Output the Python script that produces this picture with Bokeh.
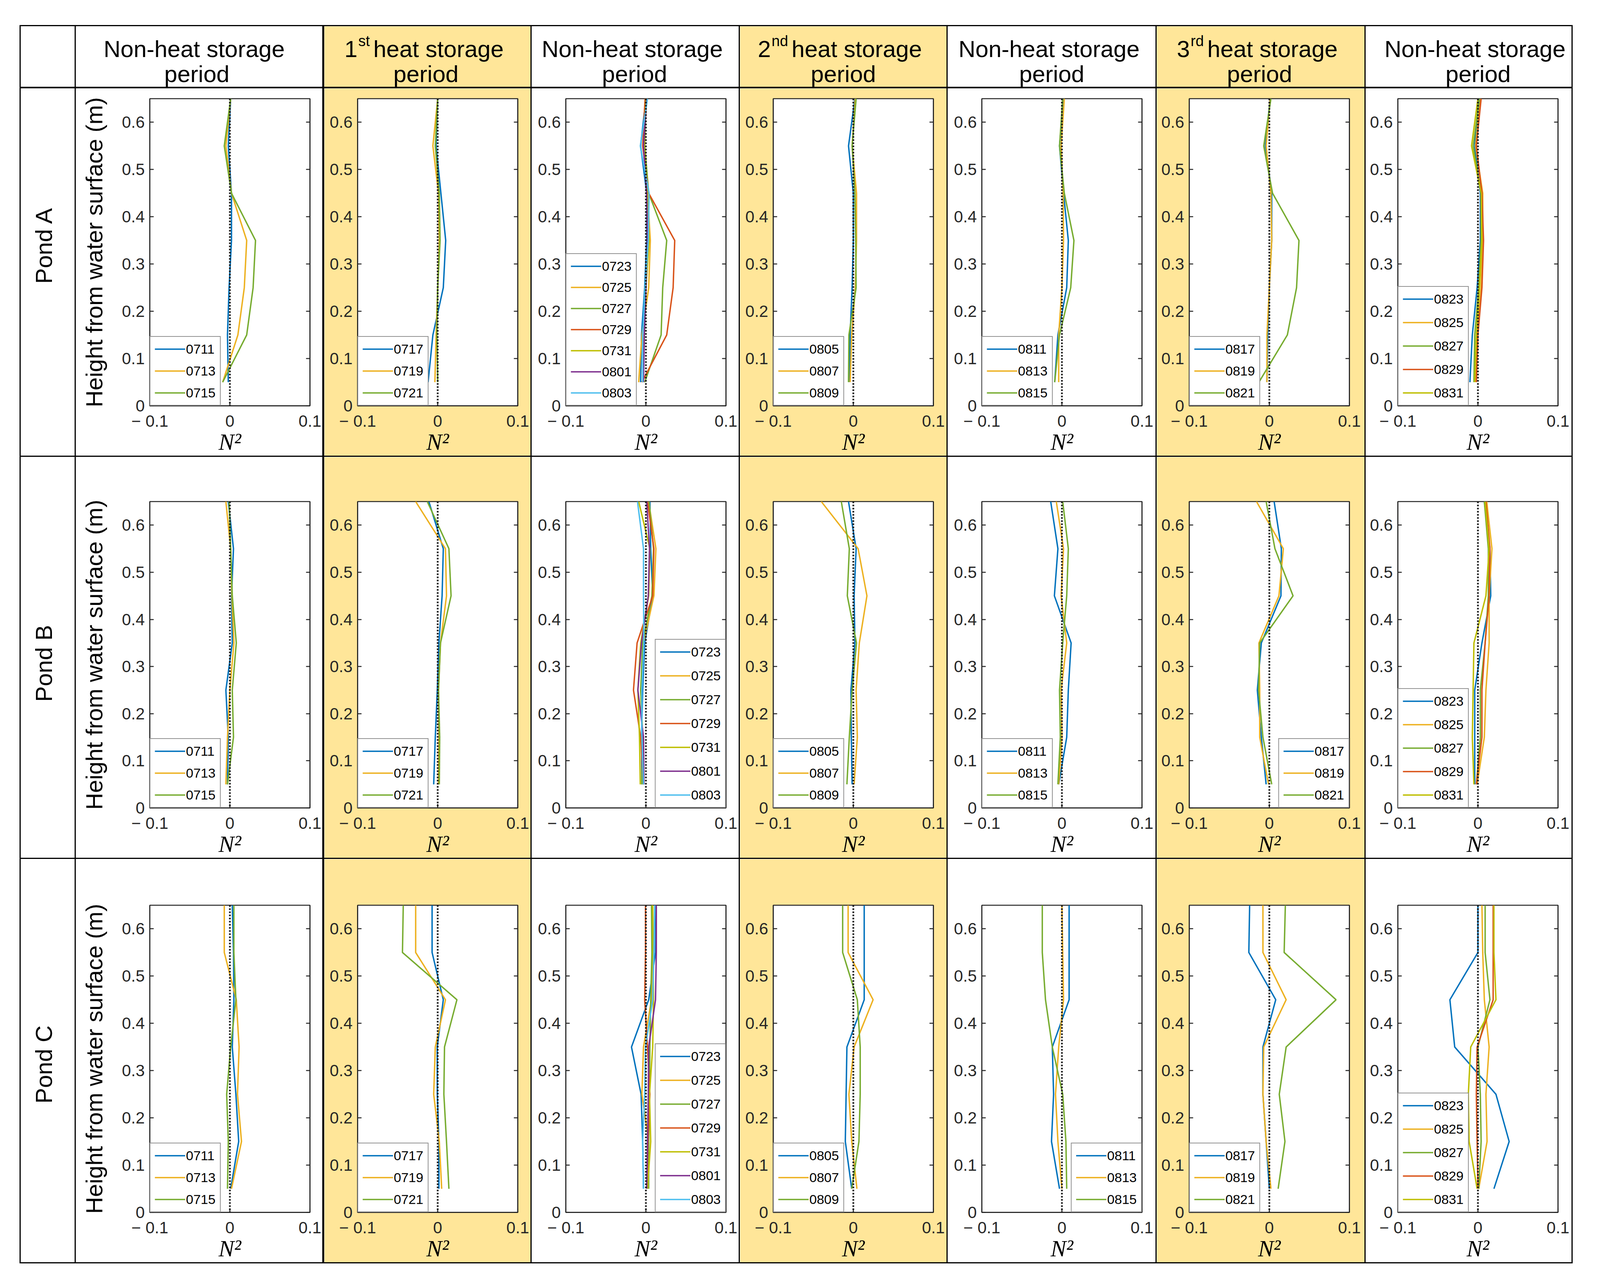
import math
from bokeh.plotting import figure
from bokeh.models import Range1d, FixedTicker, LinearAxis, Span, Legend, LegendItem, Spacer
from bokeh.layouts import row, column
from bokeh.embed import file_html
from bokeh.resources import INLINE
from bokeh.core.properties import value

# ---------------- data ----------------
DEPTH = [0.05, 0.15, 0.25, 0.35, 0.45, 0.55, 0.65]

DATES_1 = ["0711", "0713", "0715"]
DATES_2 = ["0717", "0719", "0721"]
DATES_3 = ["0723", "0725", "0727", "0729", "0731", "0801", "0803"]
DATES_4 = ["0805", "0807", "0809"]
DATES_5 = ["0811", "0813", "0815"]
DATES_6 = ["0817", "0819", "0821"]
DATES_7 = ["0823", "0825", "0827", "0829", "0831"]

# N^2 per date, values ordered like DEPTH
A1 = [[-0.002, -0.003, -0.001, 0.002, 0.002, -0.002, 0.001],
      [-0.009, 0.010, 0.018, 0.021, 0.002, -0.005, 0.001],
      [-0.009, 0.021, 0.029, 0.032, 0.002, -0.007, 0.001]]
A2 = [[-0.012, -0.006, 0.007, 0.010, 0.004, -0.002, 0.000],
      [-0.0035, -0.002, 0.000, 0.002, 0.001, -0.006, 0.000],
      [0.000, -0.001, 0.000, 0.003, 0.002, -0.003, 0.000]]
A3 = [[-0.0066, -0.0055, -0.0015, 0.001, 0.001, -0.0066, 0.000],
      [-0.009, -0.005, 0.0035, 0.0055, 0.002, -0.003, 0.001],
      [-0.0015, 0.019, 0.021, 0.026, 0.0035, -0.0015, 0.000],
      [-0.005, 0.026, 0.034, 0.036, 0.0035, -0.004, -0.001],
      [-0.004, -0.002, 0.000, 0.004, 0.002, -0.002, 0.000],
      [-0.003, -0.002, 0.000, 0.002, 0.001, -0.003, 0.001],
      [-0.004, -0.004, -0.001, 0.003, 0.004, -0.007, 0.002]]
A4 = [[-0.005, -0.004, -0.0015, 0.000, 0.000, -0.006, 0.002],
      [-0.004, -0.002, 0.0025, 0.004, 0.004, -0.0015, 0.0025],
      [-0.006, -0.0055, 0.0035, 0.003, 0.002, -0.0015, 0.0035]]
A5 = [[-0.009, -0.005, 0.006, 0.008, 0.002, -0.003, 0.002],
      [-0.004, -0.004, 0.000, 0.002, 0.0015, -0.001, 0.003],
      [-0.009, -0.003, 0.011, 0.015, 0.003, -0.003, 0.001]]
A6 = [[-0.003, -0.002, 0.000, 0.003, 0.003, -0.005, 0.001],
      [-0.003, -0.003, 0.000, 0.003, 0.002, -0.004, 0.001],
      [-0.013, 0.0225, 0.034, 0.037, 0.004, -0.007, 0.002]]
A7 = [[-0.010, -0.007, -0.001, 0.003, 0.003, -0.004, 0.001],
      [-0.003, -0.001, 0.004, 0.006, 0.006, -0.003, 0.003],
      [-0.005, -0.004, 0.001, 0.004, 0.004, -0.006, 0.002],
      [-0.002, 0.000, 0.005, 0.007, 0.005, -0.002, 0.004],
      [-0.004, -0.002, 0.002, 0.005, 0.004, -0.008, 0.000]]

B1 = [[-0.003, -0.002, -0.005, 0.003, 0.002, 0.0045, -0.002],
      [-0.005, -0.003, 0.000, 0.005, 0.0025, 0.001, -0.005],
      [-0.003, 0.0045, 0.003, 0.008, 0.003, 0.001, -0.001]]
B2 = [[-0.005, -0.003, -0.0005, 0.0015, 0.0055, 0.007, -0.011],
      [0.001, 0.0015, 0.001, 0.0035, 0.011, 0.0097, -0.0275],
      [0.002, 0.0025, 0.001, 0.0035, 0.0167, 0.014, -0.013]]
B3 = [[-0.005, -0.0055, -0.004, -0.0015, 0.0085, 0.006, 0.005],
      [-0.003, -0.004, -0.0065, -0.003, 0.010, 0.0125, 0.0035],
      [-0.005, -0.004, -0.0065, -0.004, 0.0075, 0.0095, 0.004],
      [-0.003, -0.0065, -0.0155, -0.011, 0.0085, 0.010, 0.002],
      [-0.007, -0.008, -0.010, -0.0065, 0.0035, 0.005, -0.009],
      [-0.0025, -0.003, -0.010, -0.0055, 0.003, 0.0045, 0.001],
      [-0.003, -0.005, -0.005, -0.0025, -0.003, -0.003, -0.0105]]
B4 = [[-0.0015, -0.0025, -0.003, 0.002, 0.001, 0.0035, -0.006],
      [0.001, 0.005, 0.0035, 0.0075, 0.017, 0.006, -0.040],
      [-0.008, -0.005, -0.0015, 0.004, -0.0075, -0.005, -0.015]]
B5 = [[-0.004, 0.006, 0.008, 0.0115, -0.0094, -0.005, -0.014],
      [-0.004, 0.000, -0.001, 0.006, -0.001, 0.002, -0.007],
      [-0.005, -0.002, -0.003, 0.001, 0.006, 0.008, 0.001]]
B6 = [[-0.004, -0.010, -0.015, -0.010, 0.0145, 0.015, 0.006],
      [-0.001, -0.012, -0.012, -0.013, 0.012, 0.0175, -0.016],
      [0.003, -0.008, -0.0135, -0.012, 0.0296, 0.007, -0.004]]
B7 = [[-0.004, -0.004, -0.004, 0.005, 0.016, 0.015, 0.008],
      [-0.001, 0.008, 0.010, 0.014, 0.014, 0.0175, 0.011],
      [-0.002, 0.003, 0.003, 0.009, 0.013, 0.013, 0.008],
      [-0.002, 0.005, 0.005, 0.009, 0.014, 0.015, 0.010],
      [-0.005, -0.007, -0.006, -0.005, 0.010, 0.014, 0.009]]

C1 = [[0.001, 0.011, 0.0075, 0.003, 0.005, 0.0045, 0.003],
      [0.002, 0.0145, 0.0095, 0.0115, 0.008, -0.007, -0.007],
      [-0.003, -0.002, -0.004, 0.001, 0.0075, 0.005, 0.005]]
C2 = [[0.0015, 0.0015, -0.0005, -0.0006, 0.007, -0.007, -0.007],
      [0.005, 0.002, -0.005, -0.003, 0.0097, -0.0275, -0.0275],
      [0.014, 0.011, 0.0077, 0.0085, 0.024, -0.044, -0.043]]
C3 = [[-0.003, -0.004, -0.006, -0.018, 0.0035, 0.012, 0.0125],
      [0.001, 0.0035, -0.005, -0.003, 0.007, 0.0085, 0.008],
      [0.0035, 0.0035, 0.0045, 0.005, 0.006, 0.0075, 0.007],
      [0.001, 0.0025, 0.005, 0.002, -0.0015, -0.0005, -0.0005],
      [0.002, 0.006, 0.0045, 0.0085, 0.0095, 0.009, 0.0085],
      [0.001, 0.002, 0.003, 0.0035, 0.012, 0.013, 0.013],
      [-0.003, -0.004, -0.0015, -0.0005, 0.0085, 0.010, 0.011]]
C4 = [[-0.002, -0.010, -0.009, -0.008, 0.0136, 0.0136, 0.0136],
      [0.0045, -0.002, -0.0055, 0.001, 0.0247, -0.0065, -0.0065],
      [-0.002, 0.007, 0.0086, 0.0086, 0.005, -0.0133, -0.0133]]
C5 = [[-0.003, -0.013, -0.0104, -0.012, 0.009, 0.009, 0.009],
      [0.000, -0.005, -0.008, -0.004, 0.002, 0.001, 0.000],
      [0.006, 0.005, 0.001, -0.012, -0.0205, -0.0245, -0.0245]]
C6 = [[0.000, -0.004, -0.008, -0.008, 0.008, -0.0256, -0.0246],
      [0.002, -0.004, -0.008, -0.007, 0.021, -0.008, -0.008],
      [0.011, 0.0195, 0.0124, 0.021, 0.0833, 0.0185, 0.020]]
C7 = [[0.020, 0.039, 0.0225, -0.029, -0.035, 0.000, 0.000],
      [0.001, 0.0114, 0.010, 0.014, 0.008, 0.006, 0.005],
      [0.001, 0.004, 0.003, 0.000, 0.015, 0.009, 0.009],
      [0.000, -0.001, -0.002, -0.001, 0.019, 0.019, 0.019],
      [-0.001, -0.011, -0.012, -0.009, 0.0225, 0.020, 0.020]]

PONDS = ["Pond A", "Pond B", "Pond C"]
HEAD_ORD = ["", "1", "", "2", "", "3", ""]
HEAD_SUP = ["", "st", "", "nd", "", "rd", ""]
HEAD_L1 = ["Non-heat storage", "heat storage", "Non-heat storage", "heat storage",
           "Non-heat storage", "heat storage", "Non-heat storage"]
HEAD_L2 = ["period"] * 7

X_TICKS = [-0.1, 0, 0.1]
X_TICK_LABELS = ["\u2212 0.1", "0", "0.1"]
Y_TICKS = [0, 0.1, 0.2, 0.3, 0.4, 0.5, 0.6]
Y_TICK_LABELS = ["0", "0.1", "0.2", "0.3", "0.4", "0.5", "0.6"]

COLORS = ["#0072BD", "#EDB120", "#77AC30", "#D95319", "#BEBE00", "#7E2F8E", "#4DBEEE"]

LEG_LOC = [["bottom_left"] * 7,
           ["bottom_left", "bottom_left", "bottom_right", "bottom_left", "bottom_left", "bottom_right", "bottom_left"],
           ["bottom_left", "bottom_left", "bottom_right", "bottom_left", "bottom_right", "bottom_left", "bottom_left"]]

# ---------------- layout / style ----------------
SX = 4096.0 / 4384.0          # the browser viewport that is photographed is 4096 px wide
FONT = "Liberation Sans"
AX = "#262626"
YELLOW = "#FFE699"
LINEC = "#000000"


def sx(v):
    return int(round(v * SX))


COL_X = [sx(v) for v in [62, 213, 892, 1462, 2032, 2602, 3175, 3747, 4314]]
V_LW = [3, 3, 5, 3, 3, 3, 3, 3, 3]
ROW_Y = [72, 230, 1174, 2203, 3238]
H_LW = [3, 4, 3, 3, 3]
FRAME_LEFT = [sx(v) for v in [418, 988, 1558, 2127, 2698, 3267, 3838]]
FRAME_W = sx(439)
FRAME_TOP = [260, 1291, 2324]
FRAME_H = [788, 789, 789]
POND_X = sx(128)
POND_Y = [683, 1719, 2741]
L1_SHIFT = [sx(v) for v in [-14, -10, -9, -6, -8, -10, 17]]
L2_SHIFT = [sx(v) for v in [-6, -4, -2, 0, 0, -3, 26]]

CW = [COL_X[i + 1] - COL_X[i] - V_LW[i] for i in range(8)]
CH = [ROW_Y[j + 1] - ROW_Y[j] - H_LW[j] for j in range(4)]
TOTAL_W = COL_X[-1] + V_LW[-1] - COL_X[0]

PANELS = [[A1, A2, A3, A4, A5, A6, A7], [B1, B2, B3, B4, B5, B6, B7], [C1, C2, C3, C4, C5, C6, C7]]
DATES = [DATES_1, DATES_2, DATES_3, DATES_4, DATES_5, DATES_6, DATES_7]


def fill_of(col):
    return YELLOW if col in (1, 3, 5) else "white"


def rule(w, h):
    return Spacer(width=w, height=h, styles={"background-color": LINEC})


def bare_fig(w, h, color, xr=(0, 1), yr=(0, 1)):
    f = figure(width=w, height=h, toolbar_location=None, output_backend="svg",
               x_axis_type=None, y_axis_type=None, min_border=0,
               x_range=Range1d(*xr), y_range=Range1d(*yr),
               outline_line_color=None, background_fill_color=color, border_fill_color=color)
    return f


def header_cell(col, w, h):
    f = bare_fig(w, h, fill_of(col), (0, w), (0, h))
    cx = w / 2.0
    S, SS = 60, 38
    kw = dict(text_font=value(FONT), text_baseline="alphabetic", text_color="black")
    if HEAD_ORD[col]:
        sup_w = {"st": 0.778, "nd": 1.112, "rd": 0.889}[HEAD_SUP[col]] * SS
        total = 0.556 * S + 2 + sup_w + 9 + 5.559 * S
        x0 = cx - sx(10) - total / 2.0
        f.text(x=[x0], y=[h - 58], text=[HEAD_ORD[col]], text_font_size=f"{S}px", text_align="left", **kw)
        f.text(x=[x0 + 0.556 * S + 2], y=[h - 37], text=[HEAD_SUP[col]], text_font_size=f"{SS}px",
               text_align="left", **kw)
        f.text(x=[x0 + 0.556 * S + 2 + sup_w + 9], y=[h - 58], text=[HEAD_L1[col]],
               text_font_size=f"{S}px", text_align="left", **kw)
    else:
        f.text(x=[cx + L1_SHIFT[col]], y=[h - 58], text=[HEAD_L1[col]], text_font_size=f"{S}px",
               text_align="center", **kw)
    f.text(x=[cx + L2_SHIFT[col]], y=[h - 122], text=[HEAD_L2[col]], text_font_size=f"{S}px",
           text_align="center", **kw)
    return f


def pond_cell(j, w, h):
    f = bare_fig(w, h, "white", (0, w), (0, h))
    top = ROW_Y[j + 1] + H_LW[j + 1]
    f.text(x=[POND_X - (COL_X[0] + V_LW[0])], y=[h - (POND_Y[j] - top)], text=[PONDS[j]],
           text_font=value(FONT), text_font_size="60px", text_align="center",
           text_baseline="middle", angle=math.pi / 2, text_color="black")
    return f


def panel(j, col, w, h):
    left0 = COL_X[col + 1] + V_LW[col + 1]
    top0 = ROW_Y[j + 1] + H_LW[j + 1]
    mbl = FRAME_LEFT[col] - left0
    mbr = w - mbl - FRAME_W
    mbt = FRAME_TOP[j] - top0
    mbb = h - mbt - FRAME_H[j]
    p = figure(width=w, height=h, toolbar_location=None, output_backend="svg",
               x_range=Range1d(-0.1, 0.1), y_range=Range1d(0, 0.65),
               min_border_left=mbl, min_border_right=mbr, min_border_top=mbt, min_border_bottom=mbb,
               background_fill_color="white", border_fill_color=fill_of(col),
               outline_line_color=AX, outline_line_width=2.5)
    p.grid.visible = False
    series = PANELS[j][col]
    dates = DATES[col]
    items = []
    for k, (vals, d) in enumerate(zip(series, dates)):
        r = p.line(x=vals, y=DEPTH, line_color=COLORS[k], line_width=3.6)
        items.append(LegendItem(label=d, renderers=[r]))
    p.add_layout(Span(location=0, dimension="height", line_color="#1a1a1a",
                      line_dash="4 4", line_width=4.5))

    for ax in (p.xaxis[0], p.yaxis[0]):
        ax.axis_line_color = AX
        ax.axis_line_width = 2.5
        ax.major_tick_line_color = AX
        ax.major_tick_line_width = 2.5
        ax.major_tick_in = 10
        ax.major_tick_out = 0
        ax.minor_tick_line_color = None
        ax.major_label_text_font = FONT
        ax.major_label_text_font_size = "42px"
        ax.major_label_text_color = AX
    xa = p.xaxis[0]
    xa.ticker = FixedTicker(ticks=X_TICKS)
    xa.major_label_overrides = dict(zip(X_TICKS, X_TICK_LABELS))
    xa.major_label_standoff = 15
    xa.axis_label = "N\u00b2"
    xa.axis_label_text_font = "Liberation Serif"
    xa.axis_label_text_font_style = "italic"
    xa.axis_label_text_font_size = "60px"
    xa.axis_label_text_color = "black"
    xa.axis_label_standoff = -6
    ya = p.yaxis[0]
    ya.ticker = FixedTicker(ticks=Y_TICKS)
    ya.major_label_overrides = dict(zip(Y_TICKS, Y_TICK_LABELS))
    ya.major_label_standoff = 13
    if col == 0:
        ya.axis_label = "Height from water surface (m)"
        ya.axis_label_text_font = FONT
        ya.axis_label_text_font_style = "normal"
        ya.axis_label_text_font_size = "60px"
        ya.axis_label_text_color = "black"
        ya.axis_label_standoff = 34

    ra = LinearAxis(ticker=FixedTicker(ticks=Y_TICKS),
                    major_label_overrides={t: "" for t in Y_TICKS},
                    major_label_text_font_size="1px", major_label_standoff=0,
                    major_tick_in=10, major_tick_out=0, minor_tick_line_color=None,
                    axis_line_color=AX, axis_line_width=2.5,
                    major_tick_line_color=AX, major_tick_line_width=2.5)
    p.add_layout(ra, "right")

    n = len(items)
    pitch = 56 if n == 3 else (60 if n == 5 else (54 if j == 0 else 61))
    leg = Legend(items=items, location=LEG_LOC[j][col], margin=0, padding=11,
                 spacing=pitch - 40, glyph_width=sx(83), glyph_height=40, label_height=40,
                 label_standoff=2, label_text_font=FONT, label_text_font_size="34px",
                 label_text_color="black", border_line_color=AX, border_line_width=2.5,
                 background_fill_color="white", background_fill_alpha=1.0)
    p.add_layout(leg)
    return p


rows = [rule(TOTAL_W, H_LW[0])]
for j in range(4):
    kids = []
    for i in range(8):
        kids.append(rule(V_LW[i], CH[j]))
        if j == 0:
            if i == 0:
                kids.append(bare_fig(CW[i], CH[j], "white"))
            else:
                kids.append(header_cell(i - 1, CW[i], CH[j]))
        else:
            if i == 0:
                kids.append(pond_cell(j - 1, CW[i], CH[j]))
            else:
                kids.append(panel(j - 1, i - 1, CW[i], CH[j]))
    kids.append(rule(V_LW[8], CH[j]))
    rows.append(row(kids))
    rows.append(rule(TOTAL_W, H_LW[j + 1]))

table = column(rows)
page = column(Spacer(width=10, height=ROW_Y[0] - 8),
              row(Spacer(width=COL_X[0] - 8, height=10), table))

open("out.html", "w").write(file_html(page, INLINE))
